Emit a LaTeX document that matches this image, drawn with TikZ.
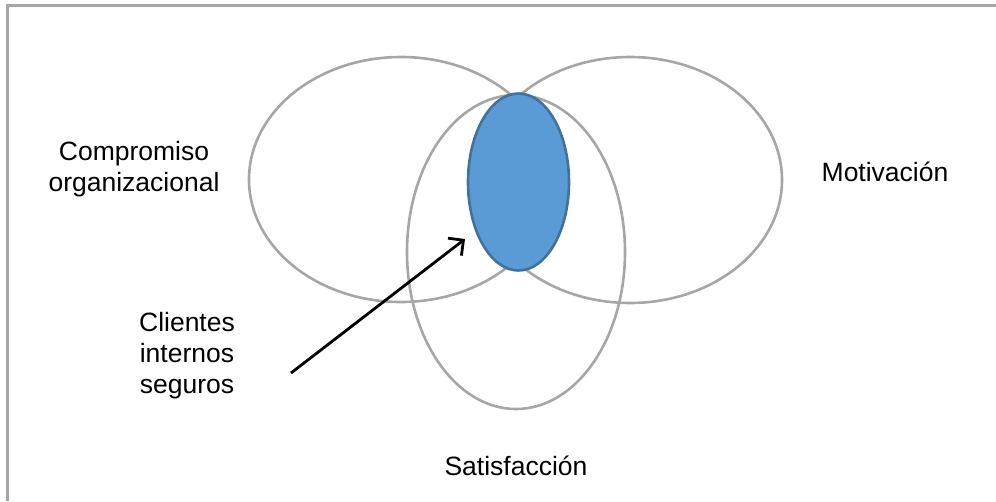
\documentclass[tikz,border=0pt]{standalone}
\usepackage{fontspec}
\setmainfont{Liberation Sans}
\usetikzlibrary{shapes.geometric,arrows.meta}
\definecolor{vgray}{HTML}{A6A6A6}
\definecolor{vblue}{HTML}{5B9BD5}
\definecolor{vbluedge}{HTML}{41719C}
\begin{document}
\begin{tikzpicture}[x=1pt,y=-1pt,
  venn/.style={draw=vgray, line width=2.6pt, ellipse, inner sep=0pt, outer sep=0pt},
  core/.style={draw=vbluedge, fill=vblue, line width=2.6pt, ellipse, inner sep=0pt, outer sep=0pt},
  lbl/.style={font=\fontsize{26.5}{31}\selectfont, align=center, inner sep=0pt},
  arr/.style={draw=black, line width=2.8pt, -{Straight Barb[length=11pt,width=22pt,line width=2.8pt]}}]
\useasboundingbox (0,0) rectangle (996,501);
\coordinate (fb) at (7.5,501);
\coordinate (fc) at (7.5,5.5);
\coordinate (fr) at (996,5.5);
\draw[vgray, line width=3pt] (fb) -- (fc) -- (fr);
\node[venn, minimum width=304pt, minimum height=245pt] (comp) at (401,179.5) {};
\node[venn, minimum width=304pt, minimum height=246pt] (moti) at (630,180) {};
\node[venn, minimum width=218pt, minimum height=314pt] (sati) at (516,252) {};
\node[core, minimum width=101pt, minimum height=177pt] (seg) at (518.5,182) {};
\node[lbl] (tcomp) at (134,169) {Compromiso\\organizacional};
\node[lbl] (tmoti) at (885,172) {Motivación};
\node[lbl] (tsati) at (516,466) {Satisfacción};
\node[lbl] (tcli) at (187,356) {Clientes\\internos\\seguros};
\coordinate (astart) at (291,373);
\coordinate (aend) at (465,239);
\draw[arr] (astart) -- (aend);
\end{tikzpicture}
\end{document}
